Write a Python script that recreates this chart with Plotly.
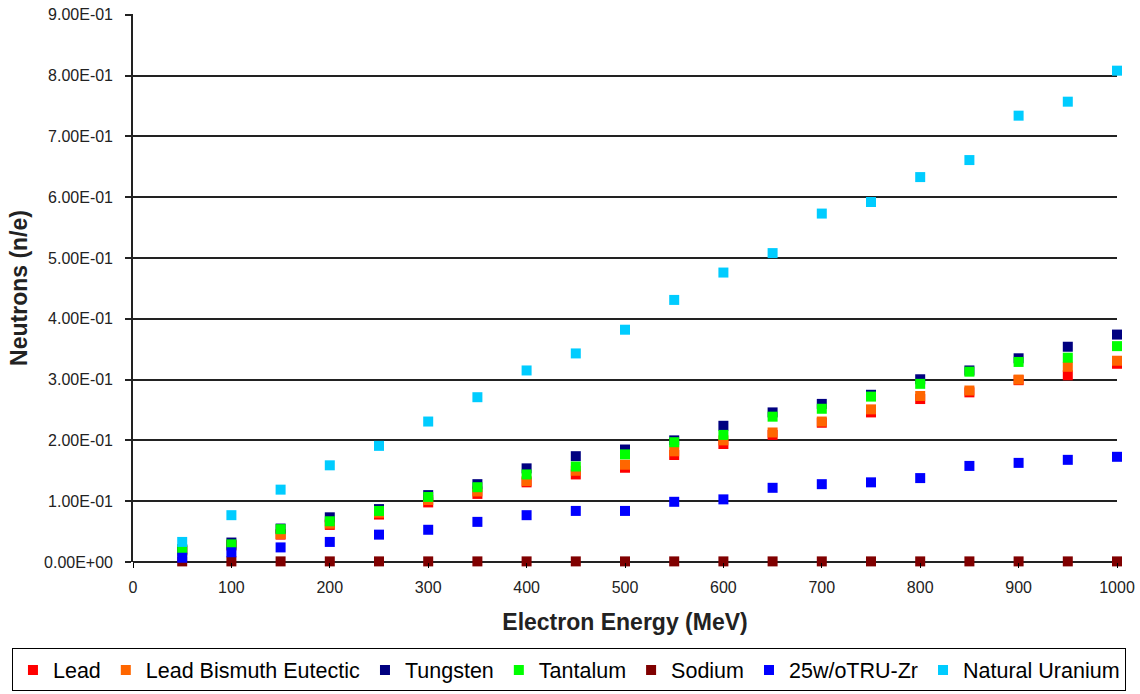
import plotly.graph_objects as go

energy = [50, 100, 150, 200, 250, 300, 350, 400, 450, 500,
          550, 600, 650, 700, 750, 800, 850, 900, 950, 1000]

lead = [0.018, 0.027, 0.045, 0.061, 0.078, 0.098, 0.112, 0.131, 0.144, 0.155,
        0.176, 0.194, 0.209, 0.229, 0.246, 0.268, 0.279, 0.299, 0.307, 0.326]
lbe = [0.019, 0.028, 0.046, 0.063, 0.081, 0.102, 0.116, 0.133, 0.150, 0.160,
       0.182, 0.200, 0.213, 0.231, 0.251, 0.273, 0.282, 0.300, 0.321, 0.331]
tungsten = [0.021, 0.032, 0.055, 0.0735, 0.087, 0.110, 0.128, 0.154, 0.174, 0.185,
            0.200, 0.224, 0.246, 0.260, 0.275, 0.3005, 0.315, 0.335, 0.354, 0.374]
tantalum = [0.020, 0.029, 0.054, 0.067, 0.084, 0.107, 0.123, 0.144, 0.157, 0.177,
            0.197, 0.209, 0.239, 0.252, 0.272, 0.293, 0.313, 0.329, 0.336, 0.355]
sodium = [0.001, 0.001, 0.001, 0.001, 0.001, 0.001, 0.001, 0.001, 0.001, 0.001,
          0.001, 0.001, 0.001, 0.001, 0.001, 0.001, 0.001, 0.001, 0.001, 0.001]
tru = [0.007, 0.016, 0.024, 0.033, 0.045, 0.053, 0.066, 0.077, 0.084, 0.084,
       0.099, 0.103, 0.122, 0.128, 0.131, 0.138, 0.158, 0.163, 0.168, 0.173]
uranium = [0.033, 0.077, 0.119, 0.159, 0.191, 0.231, 0.271, 0.315, 0.343, 0.382,
           0.431, 0.476, 0.508, 0.573, 0.592, 0.633, 0.661, 0.734, 0.757, 0.808]

series_names = ["Lead", "Lead Bismuth Eutectic", "Tungsten", "Tantalum",
                "Sodium", "25w/oTRU-Zr", "Natural Uranium"]
series_values = [lead, lbe, tungsten, tantalum, sodium, tru, uranium]
series_colors = ["#FF0000", "#FF6600", "#000080", "#00FF00",
                 "#800000", "#0000FF", "#00CCFF"]

y_tickvals = [0.0, 0.1, 0.2, 0.3, 0.4, 0.5, 0.6, 0.7, 0.8, 0.9]
y_ticktext = ["0.00E+00", "1.00E-01", "2.00E-01", "3.00E-01", "4.00E-01",
              "5.00E-01", "6.00E-01", "7.00E-01", "8.00E-01", "9.00E-01"]
x_tickvals = [0, 100, 200, 300, 400, 500, 600, 700, 800, 900, 1000]

FONT = "Liberation Sans, Arial, sans-serif"

fig = go.Figure()
for name, vals, col in zip(series_names, series_values, series_colors):
    fig.add_trace(go.Scatter(
        x=energy, y=vals, name=name, mode="markers",
        marker=dict(symbol="square", size=10, color=col, line=dict(width=0)),
        cliponaxis=False,
    ))

fig.update_layout(
    width=1140, height=694,
    margin=dict(l=133, r=23, t=14, b=132, autoexpand=False),
    paper_bgcolor="white", plot_bgcolor="white",
    font=dict(family=FONT, color="black", size=16),
    showlegend=True,
    legend=dict(
        orientation="h", x=-0.123, xanchor="left", y=-0.197, yanchor="middle",
        bordercolor="black", borderwidth=1,
        font=dict(family=FONT, size=21.5, color="black"),
        itemwidth=30,
    ),
    xaxis=dict(
        range=[0, 1000], tickvals=x_tickvals,
        showgrid=False, zeroline=False,
        showline=False,
        ticks="outside", ticklen=5, tickwidth=1, tickcolor="black",
        ticklabelstandoff=6,
        tickfont=dict(family=FONT, size=16, color="#222"),
        title=dict(text="<b>Electron Energy (MeV)</b>",
                   font=dict(family=FONT, size=23, color="#222"), standoff=18),
    ),
    yaxis=dict(
        range=[0, 0.9012], tickvals=y_tickvals, ticktext=y_ticktext,
        showgrid=True, gridcolor="#222", gridwidth=1.6,
        zeroline=True, zerolinecolor="#222", zerolinewidth=1.6,
        showline=True, linecolor="#222", linewidth=1.6,
        ticks="outside", ticklen=6, tickwidth=1.5, tickcolor="#222",
        ticklabelstandoff=9,
        tickfont=dict(family=FONT, size=16, color="#222"),
        title=dict(text="<b>Neutrons (n/e)</b>",
                   font=dict(family=FONT, size=23, color="#222"), standoff=10),
    ),
)

fig.write_html("out.html")
